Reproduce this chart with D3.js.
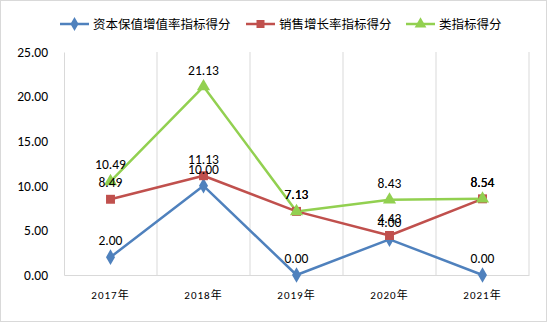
<!DOCTYPE html>
<html>
<head>
<meta charset="utf-8">
<script src="https://cdn.jsdelivr.net/npm/d3@7"></script>
<style>
  body { margin: 0; background: #fff; }
  svg text { font-family: Calibri, Carlito, "Liberation Sans", "Noto Sans CJK SC", sans-serif; }
</style>
</head>
<body>
<svg id="chart" width="549" height="324"></svg>
<script>
// chart data
const years = ['2017年', '2018年', '2019年', '2020年', '2021年'];
const capitalScores = [2.00, 10.00, 0.00, 4.00, 0.00];
const salesScores = [8.49, 11.13, 7.13, 4.43, 8.54];
const classScores = [10.49, 21.13, 7.13, 8.43, 8.54];
const yTicks = [0, 5, 10, 15, 20, 25];

const series = [
  { name: '资本保值增值率指标得分', values: capitalScores, color: '#4F81BD', marker: d3.symbolDiamond, size: 70 },
  { name: '销售增长率指标得分', values: salesScores, color: '#C0504D', marker: d3.symbolSquare, size: 80 },
  { name: '类指标得分', values: classScores, color: '#92D050', marker: d3.symbolTriangle, size: 75 }
];

const svg = d3.select('#chart');
const W = 549, H = 324;
const margin = { top: 52, right: 20, bottom: 49, left: 64 };

// outer chart border
svg.append('rect')
  .attr('x', 0.5).attr('y', 0.5)
  .attr('width', W - 3).attr('height', H - 3)
  .attr('fill', '#fff')
  .attr('stroke', '#d9d9d9');

const x = d3.scaleBand()
  .domain(years)
  .range([margin.left, W - margin.right]);

const y = d3.scaleLinear()
  .domain([0, 25])
  .range([H - margin.bottom, margin.top]);

// vertical gridlines at category boundaries
svg.append('g')
  .selectAll('line')
  .data(years.slice(1).concat(['end']))
  .join('line')
  .attr('x1', d => d === 'end' ? x.range()[1] : x(d))
  .attr('x2', d => d === 'end' ? x.range()[1] : x(d))
  .attr('y1', y(25))
  .attr('y2', y(0))
  .attr('stroke', '#d9d9d9')
  .attr('stroke-width', 1);

// left axis
const yAxis = svg.append('g')
  .attr('transform', `translate(${margin.left},0)`)
  .call(d3.axisLeft(y).tickValues(yTicks).tickFormat(d3.format('.2f')).tickSize(0).tickPadding(16));
yAxis.select('.domain').attr('stroke', '#d9d9d9');
yAxis.selectAll('text').attr('font-size', 13.5).attr('fill', '#000');

// bottom axis
const xAxis = svg.append('g')
  .attr('transform', `translate(0,${y(0)})`)
  .call(d3.axisBottom(x).tickSize(0).tickPadding(16));
xAxis.select('.domain').attr('stroke', '#d9d9d9');
xAxis.selectAll('text')
  .attr('font-size', 11)
  .attr('fill', '#000')
  .attr('letter-spacing', '1px')
  .attr('font-family', '"Noto Sans CJK SC", sans-serif');

const cx = d => x(d) + x.bandwidth() / 2;

const line = d3.line()
  .x((d, i) => cx(years[i]))
  .y(d => y(d));

// lines
series.forEach(s => {
  svg.append('path')
    .datum(s.values)
    .attr('fill', 'none')
    .attr('stroke', s.color)
    .attr('stroke-width', 2.5)
    .attr('stroke-linejoin', 'round')
    .attr('d', line);
});

// markers
series.forEach(s => {
  svg.append('g')
    .selectAll('path')
    .data(s.values)
    .join('path')
    .attr('transform', (d, i) => `translate(${cx(years[i])},${y(d)})`)
    .attr('d', d3.symbol().type(s.marker).size(s.size))
    .attr('fill', s.color);
});

// data labels
series.forEach(s => {
  svg.append('g')
    .selectAll('text')
    .data(s.values)
    .join('text')
    .attr('x', (d, i) => cx(years[i]))
    .attr('y', d => y(d) - 12)
    .attr('text-anchor', 'middle')
    .attr('font-size', 13.5)
    .attr('fill', '#000')
    .text(d => d3.format('.2f')(d));
});

// legend
const legendX = [60, 246, 406];
const legend = svg.append('g');
series.forEach((s, i) => {
  const g = legend.append('g').attr('transform', `translate(${legendX[i]},24)`);
  g.append('line')
    .attr('x1', 0).attr('x2', 29)
    .attr('stroke', s.color).attr('stroke-width', 2.5);
  g.append('path')
    .attr('transform', 'translate(14.5,0)')
    .attr('d', d3.symbol().type(s.marker).size(s.size * 0.8))
    .attr('fill', s.color);
  g.append('text')
    .attr('x', 33).attr('y', 4.5)
    .attr('font-size', 12.5)
    .attr('font-family', '"Noto Sans CJK SC", sans-serif')
    .attr('fill', '#000')
    .text(s.name);
});
</script>
</body>
</html>
